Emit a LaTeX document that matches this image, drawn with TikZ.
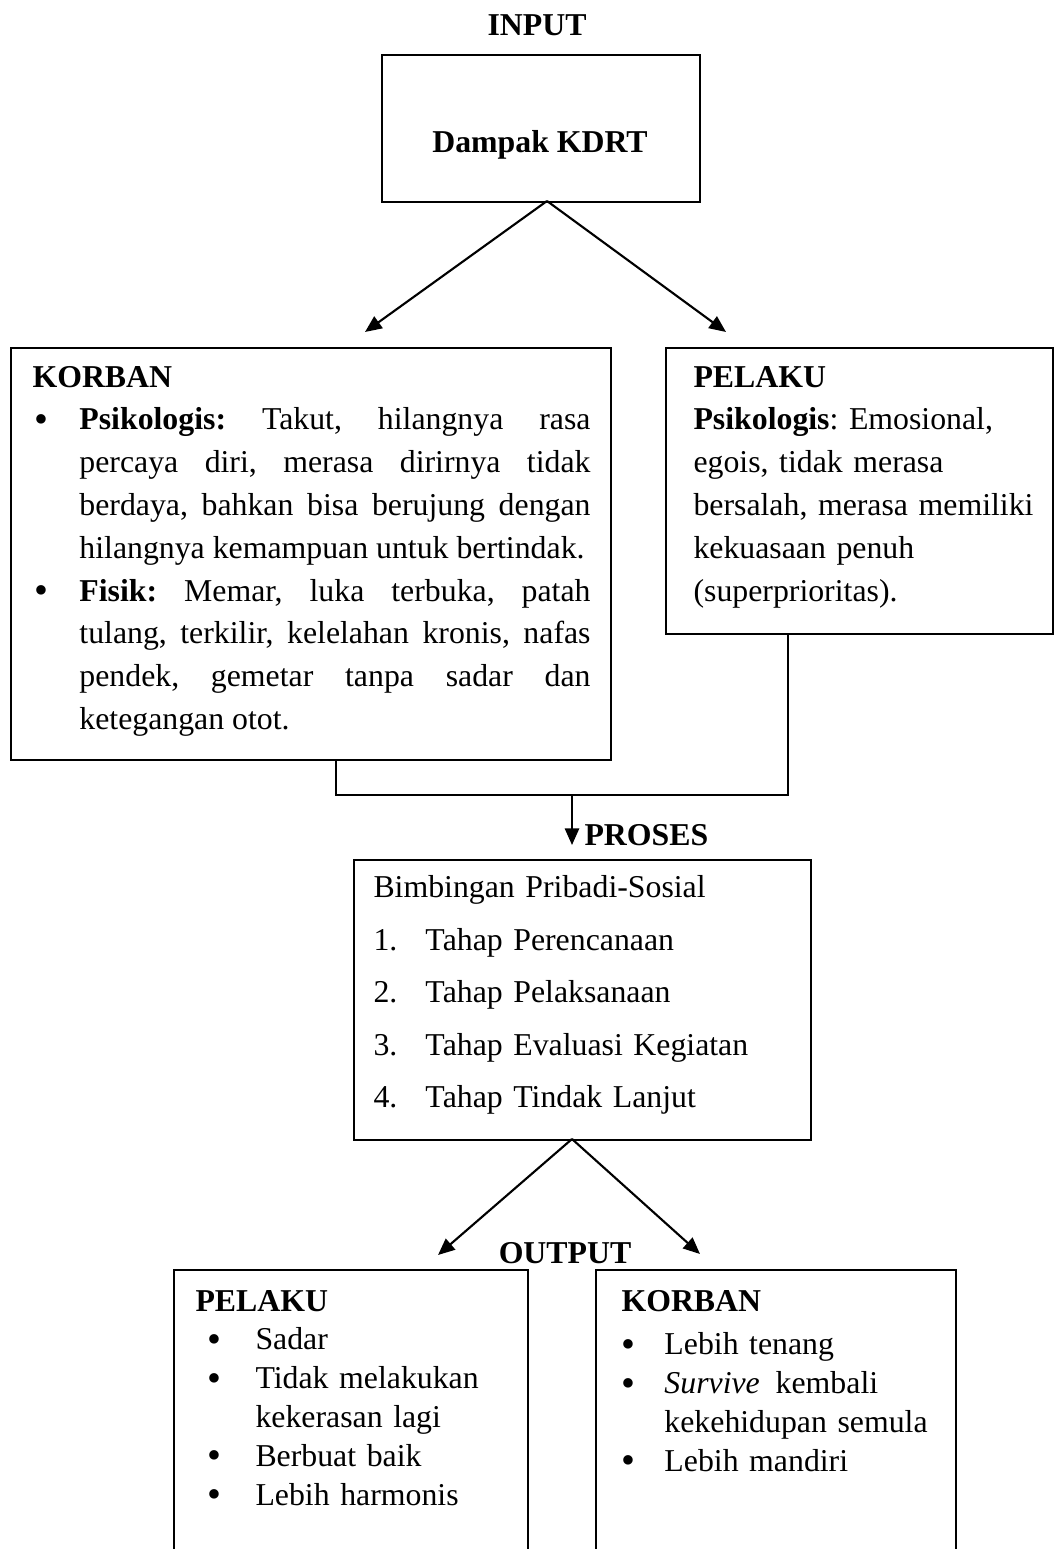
\documentclass[tikz,border=0pt]{standalone}
\usepackage{fontspec}
\setmainfont{Liberation Serif}
\usetikzlibrary{arrows.meta}
\frenchspacing
\def\pxu{0.37736pt}
\newcommand\bigbullet{\raisebox{-0.9pt}{\fontsize{15pt}{15pt}\selectfont\textbullet}}
% bullet item: #1 bullet offset, #2 hanging indent, #3 text
\newcommand\bitem[3]{\par\hangindent=#2\hangafter=1\noindent\makebox[#2][l]{\hspace*{#1}\bigbullet}#3\par}
\begin{document}
\begin{tikzpicture}[x=0.37736pt,y=-0.37736pt,
  box/.style={draw,line width=0.8pt,inner sep=0pt,anchor=north west},
  conn/.style={line width=0.8pt},
  arr/.style={conn,-{Triangle[length=6.3pt,width=5.4pt]}},
  lbl/.style={inner sep=0pt,font=\bfseries\fontsize{12pt}{14pt}\selectfont},
  txt/.style={inner sep=0pt,anchor=north west}]
\useasboundingbox (0,0) rectangle (1055,1549);
\clip (0,0) rectangle (1055,1549);

% ---------- INPUT ----------
\node[lbl] (input) at (537,25) {INPUT};
\node[box,minimum width=318*\pxu,minimum height=147*\pxu] (dampak) at (381,54) {};
\node[lbl,anchor=base] (dampaktxt) at (540,152.5) {Dampak KDRT};

% ---------- KORBAN / PELAKU ----------
\node[box,minimum width=600*\pxu,minimum height=412*\pxu] (korban) at (10,347) {};
\node[box,minimum width=387*\pxu,minimum height=286*\pxu] (pelaku) at (665,347) {};

\node[txt,text width=558*\pxu,align=justify,font=\fontsize{12pt}{16.15pt}\selectfont] (korbantxt) at (32,365.5) {%
\frenchspacing\tolerance=10000 \emergencystretch=0pt
\textbf{KORBAN}\par
\bitem{0.8pt}{17.7pt}{\textbf{Psikologis:} Takut, hilangnya rasa\linebreak percaya diri, merasa dirirnya tidak\linebreak berdaya, bahkan bisa berujung dengan\linebreak hilangnya kemampuan untuk bertindak.}
\bitem{0.8pt}{17.7pt}{\textbf{Fisik:} Memar, luka terbuka, patah\linebreak tulang, terkilir, kelelahan kronis, nafas\linebreak pendek, gemetar tanpa sadar dan\linebreak ketegangan otot.}};

\node[txt,text width=355*\pxu,align=left,font=\fontsize{12pt}{16.15pt}\selectfont] (pelakutxt) at (693,365.5) {%
\frenchspacing
\textbf{PELAKU}\newline
\textbf{Psikologis}: Emosional,\newline
egois, tidak merasa\newline
bersalah, merasa memiliki\newline
kekuasaan penuh\newline
(superprioritas).};

% arrows from Dampak KDRT
\coordinate (a1) at (547,201);
\coordinate (t1) at (365,332);
\coordinate (t2) at (726,332);
\draw[arr] (a1) -- (t1);
\draw[arr] (a1) -- (t2);

% joining connector
\coordinate (kb) at (336,759);
\coordinate (pb) at (788,633);
\coordinate (jn) at (572,795);
\coordinate (pt) at (572,845);
\draw[conn] (kb) |- (jn) -| (pb);
\draw[arr] (jn) -- (pt);

% ---------- PROSES ----------
\node[lbl,anchor=base west] (proseslbl) at (584,845) {PROSES};
\node[box,minimum width=457*\pxu,minimum height=280*\pxu] (proses) at (353,859) {};
\node[txt,text width=430*\pxu,align=left,font=\fontsize{12pt}{19.81pt}\selectfont] (prosestxt) at (373,875) {%
\frenchspacing
Bimbingan Pribadi-Sosial\newline
\makebox[19.62pt][l]{1.}Tahap Perencanaan\newline
\makebox[19.62pt][l]{2.}Tahap Pelaksanaan\newline
\makebox[19.62pt][l]{3.}Tahap Evaluasi Kegiatan\newline
\makebox[19.62pt][l]{4.}Tahap Tindak Lanjut};

\coordinate (a2) at (572,1139);
\coordinate (t3) at (438,1255);
\coordinate (t4) at (700,1254);
\draw[arr] (a2) -- (t3);
\draw[arr] (a2) -- (t4);

% ---------- OUTPUT ----------
\node[lbl,anchor=base] (outputlbl) at (565,1263) {OUTPUT};
\node[box,minimum width=354*\pxu,minimum height=340*\pxu] (outL) at (173,1269) {};
\node[box,minimum width=360*\pxu,minimum height=340*\pxu] (outR) at (595,1269) {};

\node[txt,text width=320*\pxu,align=left,font=\fontsize{12pt}{14.64pt}\selectfont] (outLtxt) at (195,1289.5) {%
\frenchspacing
\textbf{PELAKU}\par
\bitem{4.5pt}{22.64pt}{Sadar}
\bitem{4.5pt}{22.64pt}{Tidak melakukan\newline kekerasan lagi}
\bitem{4.5pt}{22.64pt}{Berbuat baik}
\bitem{4.5pt}{22.64pt}{Lebih harmonis}};

\node[txt,text width=330*\pxu,align=left,font=\fontsize{12pt}{14.64pt}\selectfont] (outRtxt) at (621,1289.5) {%
\frenchspacing
\textbf{KORBAN}\par\vspace{1.9pt}
\bitem{0pt}{16.2pt}{Lebih tenang}
\bitem{0pt}{16.2pt}{\textit{Survive}\enspace kembali\newline kekehidupan semula}
\bitem{0pt}{16.2pt}{Lebih mandiri}};
\end{tikzpicture}
\end{document}
